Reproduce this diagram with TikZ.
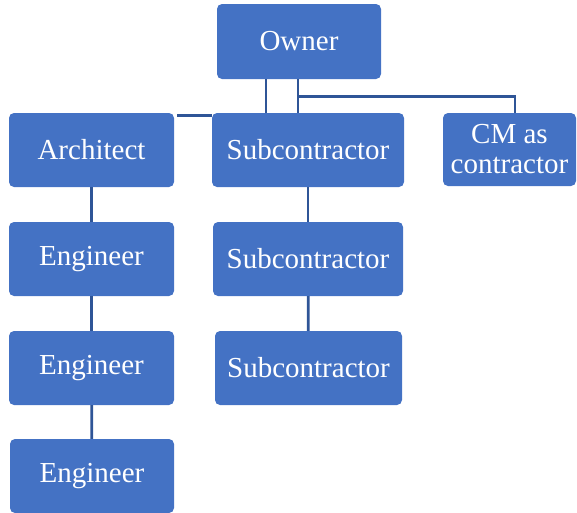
\documentclass[tikz,border=0pt]{standalone}
\usepackage{fontspec}
\setmainfont{Liberation Serif}
\definecolor{boxblue}{HTML}{4472C4}
\definecolor{lineblue}{HTML}{2F5597}
\tikzset{
	role/.style={fill=boxblue, rounded corners=5pt, text=white, font=\fontsize{29}{31}\selectfont, align=center, inner sep=0pt},
	link/.style={draw=lineblue, line width=2.8pt}
}

\begin{document}
\begin{tikzpicture}[x=1pt, y=-1pt]
		\useasboundingbox (0, 0) rectangle (577, 512);
		\node [role, minimum width=164pt, minimum height=75pt] (owner) at (299, 41.5) {Owner};
		\node [role, minimum width=165pt, minimum height=74pt] (arch) at (91.5, 150) {Architect};
		\node [role, minimum width=192pt, minimum height=74pt] (sub1) at (308, 150) {Subcontractor};
		\node [role, minimum width=133pt, minimum height=73pt, font=\fontsize{29}{30}\selectfont] (cm) at (509.5, 149.5) {CM as\\contractor};
		\node [role, minimum width=165pt, minimum height=74pt] (eng1) at (91.5, 259) {Engineer};
		\node [role, minimum width=165pt, minimum height=74pt] (eng2) at (91.5, 368) {Engineer};
		\node [role, minimum width=164pt, minimum height=74pt] (eng3) at (92, 476) {Engineer};
		\node [role, minimum width=190pt, minimum height=74pt] (sub2) at (308, 259) {Subcontractor};
		\node [role, minimum width=187pt, minimum height=74pt] (sub3) at (308.5, 368) {Subcontractor};
		\draw [link] ([xshift=-33pt]owner.south) -- ([xshift=-33pt]owner.south |- sub1.north);
		\draw [link] ([xshift=-1pt]owner.south) -- ([xshift=-1pt]owner.south |- sub1.north);
		\draw [link] ([xshift=-1pt, yshift=-17pt]owner.south) -| ([xshift=5.5pt]cm.north);
		\draw [link] ([xshift=3pt, yshift=-3pt]arch.north east) -- ([yshift=-3pt]arch.north east -| sub1.west);
		\draw [link] (arch) -- (eng1);
		\draw [link] (eng1) -- (eng2);
		\draw [link] (eng2) -- (eng3);
		\draw [link] (sub1) -- (sub2);
		\draw [link] (sub2) -- (sub3);
	\end{tikzpicture}
\end{document}
